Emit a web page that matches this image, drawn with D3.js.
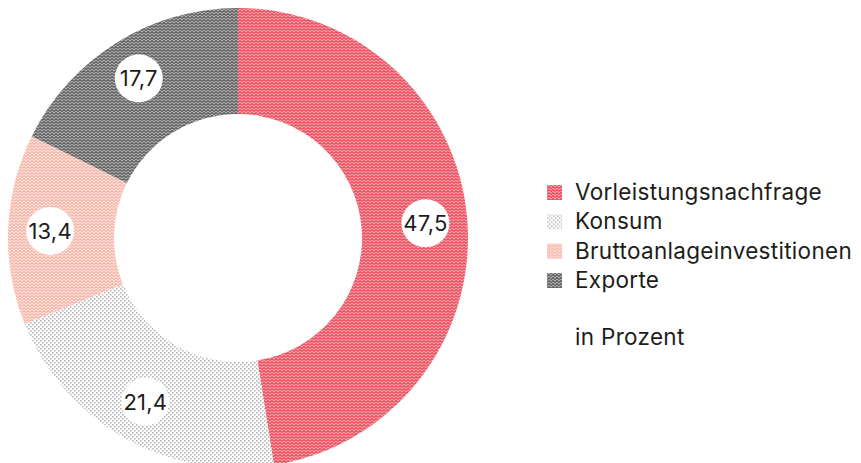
<!DOCTYPE html>
<html><head><meta charset="utf-8">
<script src="https://cdn.jsdelivr.net/npm/d3@7"></script>
<style>
html,body{margin:0;padding:0;background:#fff;}
svg text{font-family:"Inter","Noto Sans",sans-serif;fill:#1d1d1b;}
</style></head>
<body><svg id="chart" width="861" height="463"></svg>
<script>
const categories = ["Vorleistungsnachfrage","Konsum","Bruttoanlageinvestitionen","Exporte"];
const values = [47.5, 21.4, 13.4, 17.7];
const valueLabels = ["47,5","21,4","13,4","17,7"];
const unitLabel = "in Prozent";

const svg = d3.select("#chart");
const cx = 238, cy = 238, rOuter = 230, rInner = 124, rLabel = 188;

const defs = svg.append("defs");
function zigzag(id, bg, fg, sw) {
  const p = defs.append("pattern").attr("id", id).attr("patternUnits","userSpaceOnUse")
    .attr("width", 4).attr("height", 3);
  p.append("rect").attr("width",4).attr("height",3).attr("fill",bg);
  p.append("path").attr("d","M0,2.5 L2,0.5 L4,2.5").attr("fill","none").attr("stroke",fg).attr("stroke-width",sw);
}
zigzag("p0", "#f7a4ac", "#ec4556", 1.1);
(function(){
  const p = defs.append("pattern").attr("id","p1").attr("patternUnits","userSpaceOnUse").attr("width",4).attr("height",4);
  p.append("rect").attr("width",4).attr("height",4).attr("fill","#ffffff");
  p.append("rect").attr("x",0).attr("y",0).attr("width",1.6).attr("height",1.6).attr("fill","#b9b9b9");
  p.append("rect").attr("x",2).attr("y",2).attr("width",1.6).attr("height",1.6).attr("fill","#b9b9b9");
})();
zigzag("p2", "#fde3dc", "#f7b4a6", 1.1);
zigzag("p3", "#b0b0b0", "#5a5a5a", 1.1);
const fills = ["url(#p0)","url(#p1)","url(#p2)","url(#p3)"];

const pie = d3.pie().sort(null).value(d => d)(values);
const arc = d3.arc().innerRadius(rInner).outerRadius(rOuter);
const labelArc = d3.arc().innerRadius(rLabel).outerRadius(rLabel);

const g = svg.append("g").attr("transform", `translate(${cx},${cy})`);
g.selectAll("path.slice").data(pie).join("path").attr("class","slice")
  .attr("d", arc).attr("fill", (d,i) => fills[i]);

const lg = g.selectAll("g.lab").data(pie).join("g").attr("class","lab")
  .attr("transform", d => `translate(${labelArc.centroid(d)})`);
lg.append("circle").attr("r", 24).attr("fill", "#fff");
lg.append("text").attr("text-anchor","middle").attr("dy","0.36em")
  .style("font-size","22px").style("letter-spacing","0.2px").text((d,i) => valueLabels[i]);

// legend
const legend = svg.append("g").attr("transform","translate(547,192)");
const ly = d3.scalePoint().domain(categories).range([0, 88]);
const li = legend.selectAll("g").data(categories).join("g")
  .attr("transform", d => `translate(0,${ly(d)})`);
li.append("rect").attr("x",0).attr("y",-7).attr("width",15).attr("height",15)
  .attr("fill", (d,i) => fills[i]);
li.append("text").attr("x",28).attr("dy","0.36em").style("font-size","22.5px").style("letter-spacing","0.3px").text(d => d);
legend.append("text").attr("x",28).attr("y",145).attr("dy","0.36em").style("font-size","22.5px").style("letter-spacing","0.3px").text(unitLabel);
</script></body></html>
